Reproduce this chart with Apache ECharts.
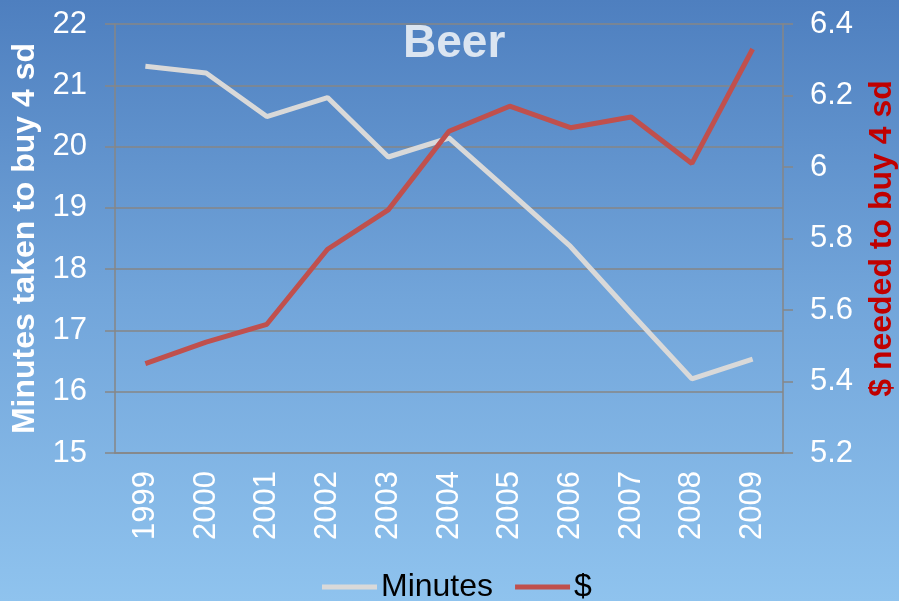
<!DOCTYPE html>
<html>
<head>
<meta charset="utf-8">
<title>Beer</title>
<script src="https://cdn.jsdelivr.net/npm/echarts@6/dist/echarts.min.js"></script>
<style>
  html, body { margin: 0; padding: 0; }
  #chart { width: 899px; height: 601px; }
</style>
</head>
<body>
<div id="chart"></div>
<script>
// data
var years = ['1999', '2000', '2001', '2002', '2003', '2004', '2005', '2006', '2007', '2008', '2009']
var minutes = [21.31, 21.2, 20.49, 20.8, 19.83, 20.14, 19.26, 18.37, 17.28, 16.21, 16.53]
var dollars = [5.45, 5.51, 5.56, 5.77, 5.88, 6.1, 6.17, 6.11, 6.14, 6.01, 6.33]

var font = 'Liberation Sans, Arial, sans-serif'
var gridGray = '#868686'

var mycharts = echarts.init(document.getElementById('chart'))
mycharts.setOption({
  animation: false,
  backgroundColor: {
    type: 'linear', x: 0, y: 0, x2: 0, y2: 1,
    colorStops: [
      { offset: 0, color: '#4e7fbf' },
      { offset: 0.5, color: '#72a5da' },
      { offset: 1, color: '#8fc3ee' }
    ]
  },
  textStyle: { fontFamily: font },
  title: {
    text: 'Beer',
    left: 398,
    top: 16,
    textStyle: { color: '#dbe5f1', fontSize: 46, fontWeight: 'bold', fontFamily: font }
  },
  legend: {
    data: ['Minutes', '$'],
    left: 317,
    top: 566,
    icon: 'rect',
    itemWidth: 55,
    itemHeight: 5,
    itemGap: 22,
    textStyle: { color: '#000', fontSize: 32, padding: [0, 0, 0, -1] }
  },
  grid: {
    left: 115,
    right: 116,
    top: 24,
    bottom: 148,
    outerBoundsMode: 'none'
  },
  xAxis: {
    type: 'category',
    data: years,
    boundaryGap: true,
    axisLine: { lineStyle: { color: gridGray, width: 1.5 } },
    axisTick: { length: 9, lineStyle: { color: gridGray, width: 1.5 } },
    axisLabel: { rotate: 90, color: '#fff', fontSize: 31, margin: 18 }
  },
  yAxis: [
    {
      type: 'value',
      min: 15,
      max: 22,
      interval: 1,
      name: 'Minutes taken to buy 4 sd',
      nameLocation: 'middle',
      nameGap: 72,
      nameRotate: 90,
      nameTextStyle: { color: '#fff', fontSize: 32, fontWeight: 'bold' },
      axisLine: { show: true, lineStyle: { color: gridGray, width: 1.5 } },
      axisTick: { show: true, length: 10, lineStyle: { color: gridGray, width: 1.5 } },
      axisLabel: { color: '#fff', fontSize: 31, margin: 28 },
      splitLine: { lineStyle: { color: gridGray, width: 1.5 } }
    },
    {
      type: 'value',
      min: 5.2,
      max: 6.4,
      interval: 0.2,
      position: 'right',
      name: '$ needed to buy 4 sd',
      nameLocation: 'middle',
      nameGap: 83,
      nameRotate: 90,
      nameTextStyle: { color: '#c00000', fontSize: 32, fontWeight: 'bold' },
      axisLine: { show: true, lineStyle: { color: gridGray, width: 1.5 } },
      axisTick: { show: true, length: 10, lineStyle: { color: gridGray, width: 1.5 } },
      axisLabel: {
        color: '#fff',
        fontSize: 31,
        margin: 27,
        formatter: function (v) { return String(Math.round(v * 10) / 10) }
      },
      splitLine: { show: false }
    }
  ],
  series: [
    {
      name: 'Minutes',
      type: 'line',
      yAxisIndex: 0,
      data: minutes,
      symbol: 'none',
      itemStyle: { color: '#d9d9d9' },
      lineStyle: { color: '#d9d9d9', width: 5 }
    },
    {
      name: '$',
      type: 'line',
      yAxisIndex: 1,
      data: dollars,
      symbol: 'none',
      itemStyle: { color: '#c0504d' },
      lineStyle: { color: '#c0504d', width: 5 }
    }
  ]
})
</script>
</body>
</html>
